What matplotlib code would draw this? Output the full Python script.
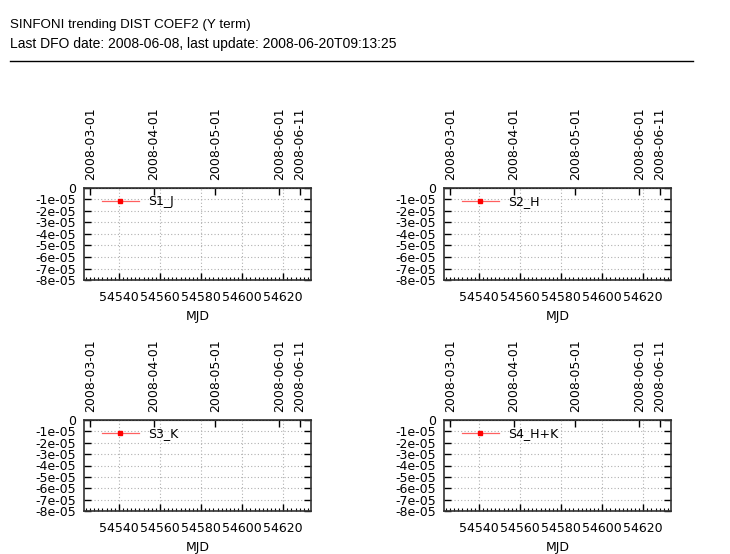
import matplotlib
matplotlib.use('Agg')
import matplotlib.pyplot as plt
from matplotlib.lines import Line2D
from matplotlib.ticker import MultipleLocator, FixedLocator, FixedFormatter

plt.rcParams['font.family'] = ['DejaVu Sans']
plt.rcParams['font.size'] = 9

title = 'SINFONI trending DIST COEF2 (Y term)'
subtitle = 'Last DFO date: 2008-06-08, last update: 2008-06-20T09:13:25'

# settings shown in the four panels
series = ['S1_J', 'S2_H', 'S3_K', 'S4_H+K']
# no points fall inside the plotted range
mjd = {'S1_J': [], 'S2_H': [], 'S3_K': [], 'S4_H+K': []}
coef = {'S1_J': [], 'S2_H': [], 'S3_K': [], 'S4_H+K': []}

xlim = (54523.0, 54633.5)
xticks = [54540, 54560, 54580, 54600, 54620]
yticks = [0, -1e-05, -2e-05, -3e-05, -4e-05, -5e-05, -6e-05, -7e-05, -8e-05]
ytick_labels = ['0', '-1e-05', '-2e-05', '-3e-05', '-4e-05', '-5e-05', '-6e-05', '-7e-05', '-8e-05']
date_labels = ['2008-03-01', '2008-04-01', '2008-05-01', '2008-06-01', '2008-06-11']
date_mjd = [54526, 54557, 54587, 54618, 54628]

W, H = 730, 554
fig = plt.figure(figsize=(W / 100, H / 100), dpi=100)

fig.text(10 / W, 1 - 25 / H, title, fontsize=9.6, va='center', ha='left',
         family='Liberation Sans')
fig.text(10 / W, 1 - 44 / H, subtitle, fontsize=10, va='center', ha='left',
         family='Liberation Sans')
fig.add_artist(Line2D([10 / W, 693 / W], [1 - 61 / H, 1 - 61 / H], color='black', lw=1.0))

# axes boxes in pixels: left, top, right, bottom
boxes = [(84, 188, 311, 280), (444, 188, 671, 280),
         (84, 420, 311, 511), (444, 420, 671, 511)]

for name, (l, t, r, b) in zip(series, boxes):
    ax = fig.add_axes([l / W, 1 - b / H, (r - l) / W, (b - t) / H])
    ax.plot(mjd[name], coef[name], '-', color='#ff6060', lw=0.9,
            marker='s', ms=2.2, mfc='red', mec='red', label=name)
    ax.set_xlim(*xlim)
    ax.set_ylim(yticks[-1], yticks[0])
    ax.set_xticks(xticks)
    ax.xaxis.set_minor_locator(MultipleLocator(2))
    ax.yaxis.set_major_locator(FixedLocator(yticks))
    ax.yaxis.set_major_formatter(FixedFormatter(ytick_labels))
    ax.grid(True, color='#b0b0b0', linestyle=(0, (1, 2)), lw=0.8)
    ax.tick_params(which='major', direction='in', length=5, width=1.0,
                   top=False, right=True, labelsize=9)
    ax.tick_params(axis='x', which='major', pad=8)
    ax.tick_params(axis='y', which='major', pad=6)
    ax.tick_params(which='minor', direction='in', length=2, width=0.8,
                   top=False, right=False)
    for s in ax.spines.values():
        s.set_color('#333333')
        s.set_linewidth(1.2)
    ax.set_xlabel('MJD', fontsize=9, labelpad=4)

    top = ax.secondary_xaxis('top')
    top.set_xticks(date_mjd)
    top.set_xticklabels(date_labels, rotation=90)
    top.tick_params(direction='in', length=5, width=1.0, pad=6, labelsize=9)

    leg_x = 17.7 / (r - l)
    leg_y = 1 - 13.7 / (b - t)
    ax.legend(loc='center left', bbox_to_anchor=(leg_x, leg_y), frameon=False,
              borderpad=0, borderaxespad=0, handlelength=3.0, handletextpad=0.75,
              fontsize=9)

fig.savefig('out.png', dpi=100)
